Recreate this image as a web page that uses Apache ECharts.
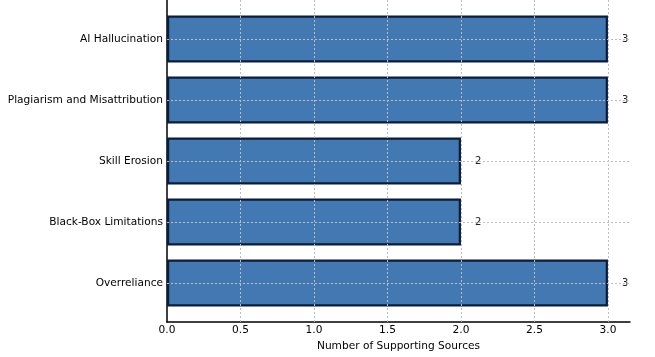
<!DOCTYPE html>
<html><head><meta charset="utf-8">
<script src="https://cdn.jsdelivr.net/npm/echarts@6/dist/echarts.min.js"></script>
<style>html,body{margin:0;padding:0;background:#fff}#c{width:655px;height:357px}</style>
</head><body><div id="c"></div>
<script>
const categories = ['AI Hallucination','Plagiarism and Misattribution','Skill Erosion','Black-Box Limitations','Overreliance'];
const sources = [3,3,2,2,3];
const xTicks = [0.5,1.0,1.5,2.0,2.5,3.0];
const xTitle = 'Number of Supporting Sources';

const font = 'DejaVu Sans';
const gridLineStyle = {color:'#bdbdbd', type:[2,2], width:1};
const chart = echarts.init(document.getElementById('c'));
chart.setOption({
  animation:false,
  textStyle:{fontFamily:font},
  grid:[
    {left:167, right:25, top:0, bottom:35},
    {left:167, right:25, top:8.5, bottom:43.5}
  ],
  xAxis:[
    {gridIndex:0, type:'value', min:0, max:3.15, interval:0.5,
     axisLine:{show:true, onZero:false, lineStyle:{color:'#000', width:1.5}},
     axisTick:{show:false}, splitLine:{show:false},
     name:xTitle, nameLocation:'middle', nameGap:17,
     nameTextStyle:{fontFamily:font, fontSize:10.6, color:'#000'},
     axisLabel:{fontFamily:font, fontSize:10.6, color:'#000', margin:3, showMaxLabel:false,
       formatter:v=>Math.abs(v*2-Math.round(v*2))<1e-9 ? v.toFixed(1) : ''}},
    {gridIndex:1, type:'value', min:0, max:3.15, show:false}
  ],
  yAxis:[
    {gridIndex:0, type:'value', min:-0.64, max:4.64, inverse:true,
     axisLine:{show:true, onZero:false, lineStyle:{color:'#000', width:1.5}},
     axisTick:{show:false}, axisLabel:{show:false}, splitLine:{show:false}},
    {gridIndex:1, type:'category', data:categories, inverse:true,
     axisLine:{show:false}, axisTick:{show:false}, splitLine:{show:false},
     axisLabel:{fontFamily:font, fontSize:10.6, color:'#000', margin:4}}
  ],
  series:[
    {type:'bar', xAxisIndex:1, yAxisIndex:1, data:sources, barWidth:47, z:2,
     itemStyle:{color:'#4279b3', borderColor:'#0c1d3a', borderWidth:2.2},
     label:{show:true, position:'right', distance:12, fontFamily:font, fontSize:10,
       color:'#222', backgroundColor:'#fff', padding:[0,2]}},
    {type:'scatter', xAxisIndex:0, yAxisIndex:0, data:[], silent:true,
     markLine:{silent:true, symbol:'none', z:5, label:{show:false},
       lineStyle:gridLineStyle, animation:false,
       data: xTicks.map(v=>({xAxis:v})).concat(categories.map((c,i)=>({yAxis:i})))}}
  ]
});
</script></body></html>
